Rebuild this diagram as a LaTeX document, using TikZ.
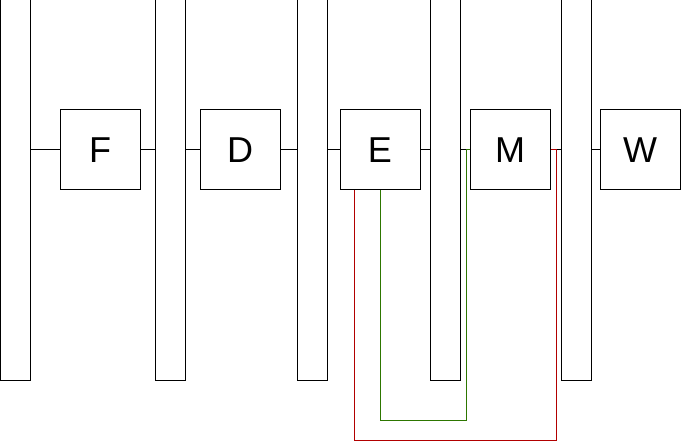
\documentclass[tikz,border=0pt]{standalone}
\usepackage{fontspec}
\setmainfont{Liberation Sans}
\definecolor{gline}{HTML}{2D7600}
\definecolor{rline}{HTML}{B20000}
\begin{document}
\begin{tikzpicture}[x=1pt,y=-1pt,line width=1pt,
  bar/.style={draw=black,fill=white,minimum width=30pt,minimum height=380pt,inner sep=0pt},
  stage/.style={draw=black,fill=white,minimum width=80pt,minimum height=80pt,inner sep=0pt,font=\fontsize{36}{42}\selectfont},
  wire/.style={draw=black},
  greenline/.style={draw=gline},
  redline/.style={draw=rline}]
\useasboundingbox (0,0) rectangle (682,443);
\node[bar] (b1) at (15.5,190) {};
\node[bar] (b2) at (170,190) {};
\node[bar] (b3) at (312,190) {};
\node[bar] (b4) at (445,190) {};
\node[bar] (b5) at (576,190) {};
\node[stage] (F) at (100,150) {F};
\node[stage] (D) at (240,150) {D};
\node[stage] (E) at (380,150) {E};
\node[stage] (M) at (510,150) {M};
\node[stage] (W) at (640,150) {W};
\draw[wire] (F.west -| b1.east) -- (F.west);
\draw[wire] (F.east) -- (F.east -| b2.west);
\draw[wire] (D.west -| b2.east) -- (D.west);
\draw[wire] (D.east) -- (D.east -| b3.west);
\draw[wire] (E.west -| b3.east) -- (E.west);
\draw[wire] (E.east) -- (E.east -| b4.west);
\draw[wire] (M.west -| b4.east) -- (M.west);
\draw[wire] (M.east) -- (M.east -| b5.west);
\draw[wire] (W.west -| b5.east) -- (W.west);
\coordinate (gc) at (466.5,420);
\coordinate (rc) at (556.5,440);
\draw[greenline] (E.south) |- (gc) |- (M.west);
\draw[redline] ([xshift=-25.5pt]E.south) |- (rc) |- (M.east);
\end{tikzpicture}
\end{document}
